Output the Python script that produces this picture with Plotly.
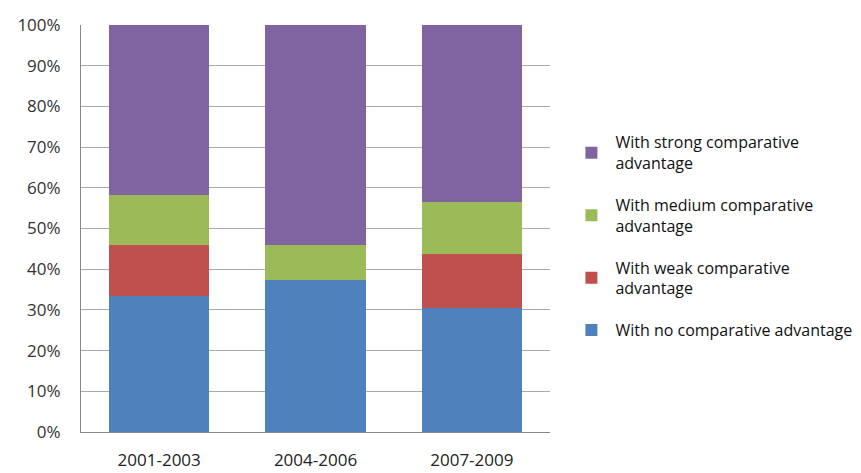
import plotly.graph_objects as go

categories = ["2001-2003", "2004-2006", "2007-2009"]
no_adv = [33.3, 37.4, 30.5]
weak_adv = [12.6, 0.0, 13.2]
medium_adv = [12.4, 8.5, 12.7]
strong_adv = [41.7, 54.1, 43.6]

series = [
    ("With no comparative advantage", no_adv, "#4F81BD", 4),
    ("With weak comparative<br>advantage", weak_adv, "#C0504D", 3),
    ("With medium comparative<br>advantage", medium_adv, "#9BBB59", 2),
    ("With strong comparative<br>advantage", strong_adv, "#8064A2", 1),
]

fig = go.Figure()
for i, (name, vals, col, rank) in enumerate(series):
    fig.add_trace(go.Bar(
        x=categories, y=vals, name=name, marker_color=col,
        marker_line_width=0, legendgroup=f"g{i}", legendrank=rank,
    ))

FONT = "Open Sans"
fig.update_layout(
    barmode="stack",
    bargap=0.36,
    width=861, height=473,
    margin=dict(l=81, r=311, t=25, b=41, autoexpand=False),
    plot_bgcolor="white", paper_bgcolor="white",
    font=dict(family=FONT, size=16, color="#222222"),
    legend=dict(
        xref="container", yref="container",
        x=0.659, y=0.735, xanchor="left", yanchor="top",
        traceorder="grouped", tracegroupgap=18,
        font=dict(size=16, color="#111111"),
        itemwidth=38,
    ),
    xaxis=dict(
        showline=True, linecolor="#888888", linewidth=1,
        ticks="", ticklabelstandoff=13, automargin=False,
        tickfont=dict(size=17, color="#222222"),
    ),
    yaxis=dict(
        range=[0, 100], dtick=10, ticksuffix="%",
        showgrid=True, gridcolor="#AAAAAA", gridwidth=1,
        showline=True, linecolor="#888888", linewidth=1,
        zeroline=False, ticklabelstandoff=16, automargin=False,
        tickfont=dict(size=17, color="#333333"),
    ),
)
fig.write_html("out.html")
